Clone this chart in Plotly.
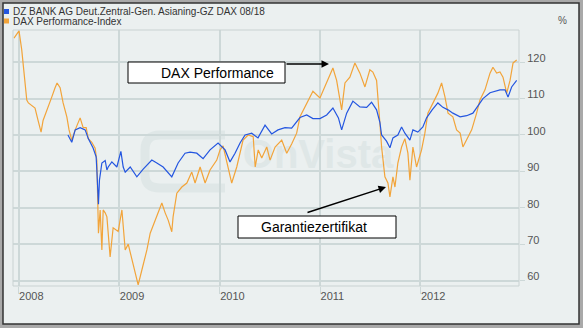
import plotly.graph_objects as go
from datetime import datetime, timedelta

# ---------------- data (decimal years, index values in %) ----------------
dax_t = [2007.954, 2008.004, 2008.031, 2008.064, 2008.081, 2008.097, 2008.130, 2008.163,
         2008.193, 2008.223, 2008.243, 2008.280, 2008.329, 2008.362, 2008.382, 2008.412,
         2008.442, 2008.479, 2008.501, 2008.528, 2008.562, 2008.611, 2008.641, 2008.671,
         2008.692, 2008.727, 2008.760, 2008.777, 2008.783, 2008.793, 2008.810, 2008.827,
         2008.840, 2008.860, 2008.877, 2008.909, 2008.939, 2008.989, 2009.026, 2009.059,
         2009.089, 2009.125, 2009.158, 2009.188, 2009.225, 2009.275, 2009.308, 2009.358,
         2009.388, 2009.424, 2009.457, 2009.487, 2009.523, 2009.536, 2009.573, 2009.623,
         2009.673, 2009.722, 2009.755, 2009.805, 2009.855, 2009.904, 2009.971, 2010.004,
         2010.034, 2010.084, 2010.120, 2010.170, 2010.233, 2010.284, 2010.334, 2010.354,
         2010.384, 2010.419, 2010.469, 2010.502, 2010.552, 2010.618, 2010.668, 2010.717,
         2010.767, 2010.800, 2010.867, 2010.929, 2010.999, 2011.049, 2011.128, 2011.165,
         2011.215, 2011.248, 2011.297, 2011.347, 2011.397, 2011.447, 2011.496, 2011.526,
         2011.563, 2011.596, 2011.613, 2011.646, 2011.676, 2011.696, 2011.726, 2011.746,
         2011.775, 2011.812, 2011.845, 2011.875, 2011.895, 2011.925, 2011.961, 2012.011,
         2012.044, 2012.074, 2012.124, 2012.173, 2012.210, 2012.244, 2012.274, 2012.322,
         2012.359, 2012.394, 2012.422, 2012.459, 2012.509, 2012.558, 2012.591, 2012.641,
         2012.691, 2012.720, 2012.757, 2012.790, 2012.820, 2012.857, 2012.890, 2012.920,
         2012.956]
dax_v = [126.6, 128.6, 123.4, 115.0, 109.6, 108.8, 108.2, 107.4,
         104.0, 100.8, 104.0, 107.0, 110.4, 113.0, 114.3, 113.0,
         108.8, 105.0, 101.4, 98.6, 101.4, 104.7, 102.0, 102.0,
         99.0, 98.0, 96.4, 93.0, 84.0, 73.0, 79.4, 68.4,
         79.4, 78.6, 77.5, 66.5, 74.5, 73.5, 79.4, 68.4,
         70.0, 65.7, 62.0, 58.8, 62.9, 68.4, 73.0, 76.6,
         78.6, 81.3, 78.6, 76.6, 73.4, 77.5, 84.0, 85.7,
         86.8, 89.8, 86.8, 91.2, 86.8, 90.4, 93.1, 95.9,
         97.0, 91.0, 86.8, 91.2, 98.6, 100.0, 99.5, 91.2,
         95.9, 93.7, 96.7, 93.1, 96.7, 98.6, 95.0, 97.5,
         100.5, 105.0, 108.8, 112.0, 110.2, 113.2, 118.4, 115.0,
         106.9, 114.3, 115.9, 119.8, 117.0, 113.2, 117.9, 117.3,
         115.0, 103.3, 96.7, 88.5, 86.8, 83.0, 88.5, 85.7,
         92.3, 96.7, 99.0, 95.0, 87.6, 96.7, 91.2, 95.9,
         100.5, 106.0, 108.8, 111.5, 114.3, 110.4, 106.0, 105.0,
         101.4, 100.5, 96.7, 98.6, 101.4, 106.0, 109.6, 112.4,
         117.0, 118.6, 117.0, 117.3, 115.9, 111.5, 115.0, 119.8,
         120.6]

dz_t = [2008.490, 2008.528, 2008.562, 2008.611, 2008.661, 2008.692, 2008.740, 2008.770,
        2008.777, 2008.783, 2008.793, 2008.803, 2008.827, 2008.860, 2008.877, 2008.890,
        2008.926, 2008.976, 2009.016, 2009.039, 2009.059, 2009.109, 2009.175, 2009.238,
        2009.324, 2009.374, 2009.437, 2009.523, 2009.586, 2009.655, 2009.705, 2009.772,
        2009.835, 2009.904, 2009.984, 2010.054, 2010.103, 2010.153, 2010.203, 2010.253,
        2010.319, 2010.382, 2010.452, 2010.518, 2010.581, 2010.651, 2010.717, 2010.800,
        2010.867, 2010.929, 2010.999, 2011.066, 2011.128, 2011.183, 2011.215, 2011.265,
        2011.327, 2011.397, 2011.464, 2011.513, 2011.563, 2011.596, 2011.613, 2011.662,
        2011.696, 2011.726, 2011.775, 2011.812, 2011.845, 2011.895, 2011.925, 2011.974,
        2012.024, 2012.061, 2012.116, 2012.173, 2012.223, 2012.274, 2012.322, 2012.394,
        2012.459, 2012.521, 2012.571, 2012.621, 2012.691, 2012.790, 2012.840, 2012.870,
        2012.906, 2012.956]
dz_v = [100.0, 98.0, 101.4, 102.0, 101.4, 99.0, 96.4, 94.0,
        90.4, 84.0, 81.0, 87.6, 92.3, 93.0, 90.4, 91.2,
        92.6, 91.2, 95.5, 91.2, 89.8, 91.2, 88.5, 90.6,
        93.1, 92.3, 91.2, 88.5, 92.3, 95.0, 95.3, 95.0,
        93.5, 95.9, 97.8, 95.9, 92.6, 95.0, 97.8, 100.0,
        100.5, 99.2, 102.7, 100.3, 101.4, 102.0, 101.9, 104.8,
        105.5, 104.5, 104.5, 105.5, 107.4, 104.7, 101.4, 106.0,
        109.3, 107.7, 107.6, 109.0, 106.9, 103.5, 100.0, 98.3,
        96.5, 99.2, 100.0, 102.2, 100.5, 98.6, 101.4, 100.8,
        102.2, 104.7, 106.9, 108.8, 107.6, 106.9, 106.0, 105.0,
        105.3, 106.0, 108.0, 110.0, 111.6, 112.4, 112.4, 110.4,
        113.2, 115.0]

y_ticks = [60, 70, 80, 90, 100, 110, 120]
x_years = [2008, 2009, 2010, 2011, 2012]
name_dz = "DZ BANK AG Deut.Zentral-Gen. Asianing-GZ DAX 08/18"
name_dax = "DAX Performance-Index"
label_dax = "DAX Performance"
label_dz = "Garantiezertifikat"


def to_date(t):
    y = int(t)
    start = datetime(y, 1, 1)
    days = (datetime(y + 1, 1, 1) - start).days
    return start + timedelta(days=(t - y) * days)


# ---------------- layout geometry (pixels) ----------------
W, H = 583, 328
L, R, T, B = 13, 519, 30, 286


def px(x):
    return (x - L) / (R - L)


def py(y):
    return (B - y) / (B - T)


BLUE = "#2456e0"
ORANGE = "#f2a43a"
GRID = "#cdd8d8"
WM = "#dfe7e7"

fig = go.Figure()
fig.add_trace(go.Scatter(x=[to_date(t) for t in dax_t], y=dax_v, mode="lines",
                         line=dict(color=ORANGE, width=1.2), name=name_dax))
fig.add_trace(go.Scatter(x=[to_date(t) for t in dz_t], y=dz_v, mode="lines",
                         line=dict(color=BLUE, width=1.2), name=name_dz))

shapes = [
    # outer panel
    dict(type="rect", xref="paper", yref="paper", x0=px(3), x1=px(579), y0=py(324), y1=py(3),
         fillcolor="#ebf0f0", line=dict(color="#333333", width=1.5), layer="below"),
    # plot area frame
    dict(type="rect", xref="paper", yref="paper", x0=px(L), x1=px(R), y0=py(B), y1=py(T),
         line=dict(color="#c9d2d2", width=1), layer="above"),
    # legend squares
    dict(type="rect", xref="paper", yref="paper", x0=px(4), x1=px(9), y0=py(14), y1=py(9),
         fillcolor=BLUE, line=dict(width=0)),
    dict(type="rect", xref="paper", yref="paper", x0=px(4), x1=px(9), y0=py(23.5), y1=py(18.5),
         fillcolor=ORANGE, line=dict(width=0)),
    # annotation boxes
    dict(type="rect", xref="paper", yref="paper", x0=px(128), x1=px(285), y0=py(83), y1=py(62),
         fillcolor="white", line=dict(color="black", width=1)),
    dict(type="rect", xref="paper", yref="paper", x0=px(238), x1=px(396), y0=py(238), y1=py(216),
         fillcolor="white", line=dict(color="black", width=1)),
    # watermark logo (faint rounded outline) and wordmark
    dict(type="path", xref="paper", yref="paper", layer="below",
         path=f"M {px(225)},{py(135)} L {px(160)},{py(135)} Q {px(145)},{py(135)} {px(145)},{py(150)} "
              f"L {px(145)},{py(175)} Q {px(145)},{py(188)} {px(160)},{py(188)} L {px(225)},{py(188)}",
         line=dict(color=WM, width=9)),
    dict(type="rect", xref="paper", yref="paper", x0=px(238), x1=px(398), y0=py(168), y1=py(132),
         fillcolor="rgba(0,0,0,0)", line=dict(width=0), layer="below",
         label=dict(text="<b>OnVista</b>", font=dict(size=40, color=WM, family="Liberation Sans"),
                    textposition="middle center")),
]

ann = [
    dict(xref="paper", yref="paper", x=px(12), y=py(11.5), text=name_dz, showarrow=False,
         xanchor="left", yanchor="middle", borderpad=0, font=dict(size=10, color="#333333")),
    dict(xref="paper", yref="paper", x=px(12), y=py(21.5), text=name_dax, showarrow=False,
         xanchor="left", yanchor="middle", borderpad=0, font=dict(size=10, color="#333333")),
    dict(xref="paper", yref="paper", x=px(562), y=py(20), text="%", showarrow=False,
         xanchor="center", yanchor="middle", font=dict(size=10, color="#555555")),
    dict(xref="paper", yref="paper", x=px(217), y=py(72.5), text=label_dax, showarrow=False,
         xanchor="center", yanchor="middle", font=dict(size=14, color="black")),
    dict(xref="paper", yref="paper", x=px(313.5), y=py(227), text=label_dz, showarrow=False,
         xanchor="center", yanchor="middle", font=dict(size=14, color="black")),
    dict(xref="paper", yref="paper", x=px(329), y=py(64), text="", showarrow=True,
         ax=-44, ay=0, arrowhead=2, arrowsize=1, arrowwidth=1.5, arrowcolor="black"),
    dict(xref="paper", yref="paper", x=px(386), y=py(187), text="", showarrow=True,
         ax=-80, ay=26, arrowhead=2, arrowsize=1, arrowwidth=1.5, arrowcolor="black"),
]

fig.update_layout(
    width=W, height=H,
    margin=dict(l=L, r=W - R, t=T, b=H - B, pad=0),
    paper_bgcolor="#a9a9a9",
    plot_bgcolor="white",
    showlegend=False,
    font=dict(family="Liberation Sans, Arial, sans-serif", size=11, color="#555555"),
    shapes=shapes,
    annotations=ann,
)
fig.update_xaxes(
    type="date",
    range=[to_date(2007.944), to_date(2012.979)],
    tickvals=[datetime(y, 1, 1) for y in x_years],
    ticktext=[str(y) for y in x_years],
    ticklabelposition="outside right",
    ticks="outside", ticklen=7, tickcolor=GRID,
    showgrid=True, gridcolor=GRID, gridwidth=1.5,
    zeroline=False, showline=False,
    tickfont=dict(size=11, color="#555555"),
)
fig.update_yaxes(
    side="right",
    range=[58.5, 128.85],
    tickvals=y_ticks,
    ticks="outside", ticklen=5, tickcolor=GRID,
    showgrid=True, gridcolor=GRID, gridwidth=1.5,
    zeroline=False, showline=False,
    tickfont=dict(size=11, color="#555555"),
    ticklabelshift=-4,
)

fig.write_html("out.html", config={"displayModeBar": False},
               post_script="document.body.style.margin='0';document.body.style.overflow='hidden';")
